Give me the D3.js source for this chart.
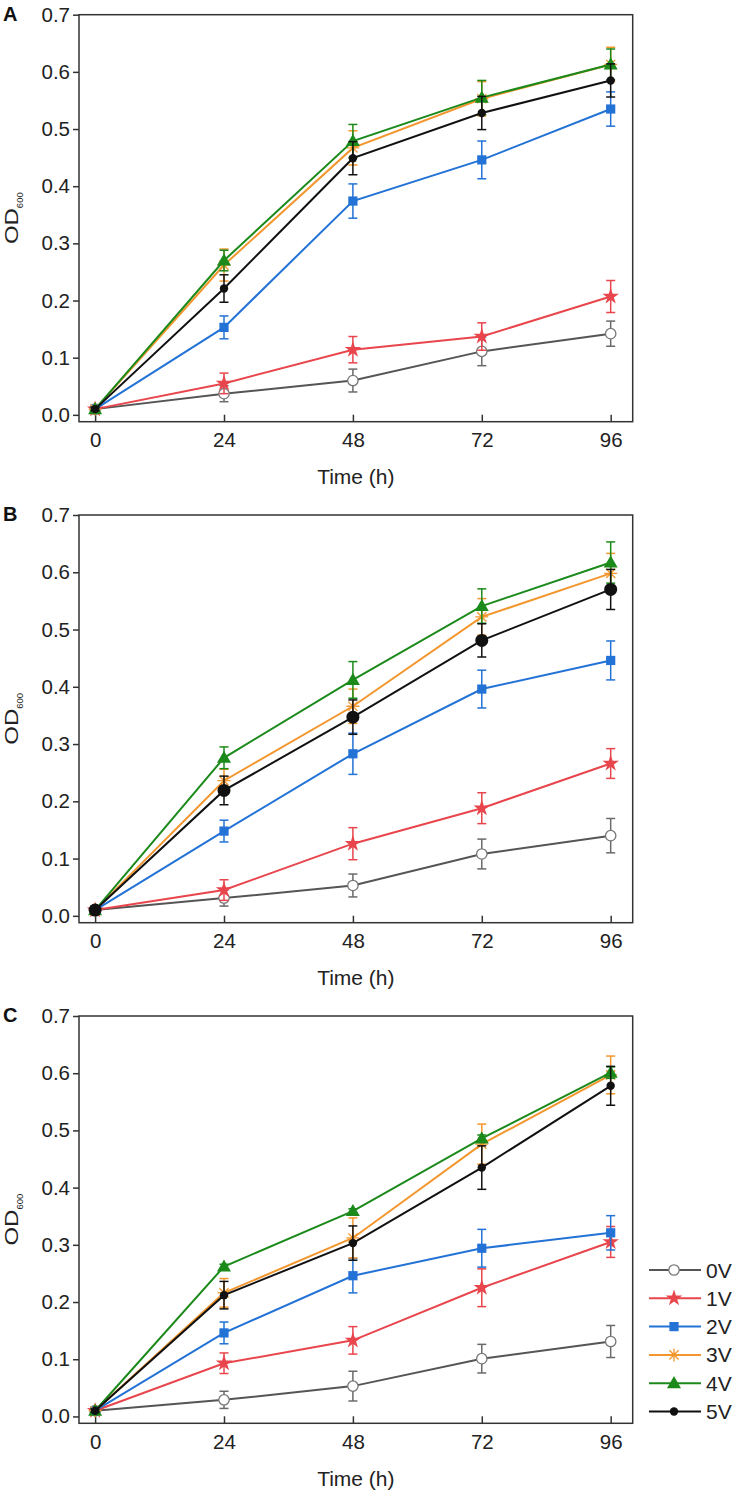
<!DOCTYPE html>
<html><head><meta charset="utf-8">
<script src="https://cdn.jsdelivr.net/npm/d3@7"></script>
<style>body{margin:0;background:#fff}svg{display:block;font-family:Arial,"Liberation Sans",sans-serif}</style>
</head><body>
<svg id="c" width="739" height="1499"></svg>
<script>
const times = [0, 24, 48, 72, 96];
const xTicks = [0, 24, 48, 72, 96];
const yTicks = [0, 0.1, 0.2, 0.3, 0.4, 0.5, 0.6, 0.7];
const seriesNames = ["0V", "1V", "2V", "3V", "4V", "5V"];
const panelLabels = ["A", "B", "C"];

// Panel A
const A_0V = [0.010, 0.037, 0.060, 0.111, 0.142];
const A_1V = [0.010, 0.055, 0.114, 0.137, 0.207];
const A_2V = [0.010, 0.153, 0.374, 0.446, 0.535];
const A_3V = [0.010, 0.262, 0.467, 0.553, 0.613];
const A_4V = [0.010, 0.270, 0.479, 0.555, 0.613];
const A_5V = [0.010, 0.221, 0.449, 0.528, 0.585];
const A_err0 = [0.003, 0.014, 0.020, 0.025, 0.022];
const A_err1 = [0.003, 0.018, 0.023, 0.024, 0.028];
const A_err2 = [0.003, 0.020, 0.030, 0.033, 0.030];
const A_err3 = [0.003, 0.028, 0.030, 0.030, 0.030];
const A_err4 = [0.003, 0.018, 0.029, 0.030, 0.027];
const A_err5 = [0.003, 0.024, 0.029, 0.029, 0.029];
// Panel B
const B_0V = [0.010, 0.031, 0.053, 0.108, 0.140];
const B_1V = [0.010, 0.045, 0.126, 0.188, 0.266];
const B_2V = [0.010, 0.148, 0.283, 0.396, 0.446];
const B_3V = [0.010, 0.236, 0.366, 0.522, 0.598];
const B_4V = [0.010, 0.276, 0.412, 0.541, 0.617];
const B_5V = [0.010, 0.219, 0.347, 0.481, 0.570];
const B_err0 = [0.003, 0.014, 0.020, 0.026, 0.030];
const B_err1 = [0.003, 0.018, 0.028, 0.027, 0.026];
const B_err2 = [0.003, 0.019, 0.036, 0.033, 0.034];
const B_err3 = [0.003, 0.020, 0.030, 0.032, 0.035];
const B_err4 = [0.003, 0.019, 0.032, 0.030, 0.036];
const B_err5 = [0.003, 0.025, 0.030, 0.029, 0.035];
// Panel C
const C_0V = [0.010, 0.029, 0.053, 0.101, 0.131];
const C_1V = [0.010, 0.093, 0.133, 0.225, 0.305];
const C_2V = [0.010, 0.146, 0.246, 0.294, 0.321];
const C_3V = [0.010, 0.216, 0.312, 0.476, 0.597];
const C_4V = [0.010, 0.262, 0.359, 0.486, 0.601];
const C_5V = [0.010, 0.212, 0.303, 0.435, 0.578];
const C_err0 = [0.003, 0.015, 0.026, 0.025, 0.028];
const C_err1 = [0.003, 0.018, 0.024, 0.033, 0.027];
const C_err2 = [0.003, 0.019, 0.030, 0.033, 0.030];
const C_err3 = [0.003, 0.025, 0.035, 0.035, 0.033];
const C_err4 = [0.002, 0.004, 0.004, 0.006, 0.010];
const C_err5 = [0.003, 0.024, 0.030, 0.038, 0.034];

const panelsData = [
  {vals:[A_0V,A_1V,A_2V,A_3V,A_4V,A_5V], errs:[A_err0,A_err1,A_err2,A_err3,A_err4,A_err5]},
  {vals:[B_0V,B_1V,B_2V,B_3V,B_4V,B_5V], errs:[B_err0,B_err1,B_err2,B_err3,B_err4,B_err5]},
  {vals:[C_0V,C_1V,C_2V,C_3V,C_4V,C_5V], errs:[C_err0,C_err1,C_err2,C_err3,C_err4,C_err5]}
];

const lineColors = ["#555555", "#e8464c", "#2372d6", "#f2962d", "#1b8a1b", "#111111"];
const errColors  = ["#6a6a6a", "#e8464c", "#2372d6", "#f2962d", "#1b8a1b", "#111111"];

const layout = [
  {top:14.7, bottom:421.7, bigDot:false},
  {top:515, bottom:922.7, bigDot:true},
  {top:1016, bottom:1423.3, bigDot:false}
];
const left = 79, right = 632.7;
const FONT = "Arial, 'Liberation Sans', sans-serif";

const svg = d3.select("#c");
const x = d3.scaleLinear().domain([-3, 100.1]).range([left, right]);

function asteriskPath(r){
  let p = "";
  for (let k = 0; k < 4; k++){
    const a = k*Math.PI/4;
    const dx = r*Math.cos(a), dy = r*Math.sin(a);
    p += `M${-dx},${-dy}L${dx},${dy}`;
  }
  return p;
}

function drawMarker(g, i, cx, cy, big){
  const c = lineColors[i];
  if (i === 0){
    g.append("circle").attr("cx",cx).attr("cy",cy).attr("r",5.2).attr("fill","#fff").attr("stroke","#777").attr("stroke-width",1.3);
  } else if (i === 1){
    g.append("path").attr("d", d3.symbol().type(d3.symbolStar).size(85)()).attr("transform",`translate(${cx},${cy})`).attr("fill",c);
  } else if (i === 2){
    g.append("path").attr("d", d3.symbol().type(d3.symbolSquare).size(85)()).attr("transform",`translate(${cx},${cy})`).attr("fill",c);
  } else if (i === 3){
    g.append("path").attr("d", asteriskPath(6.5)).attr("transform",`translate(${cx},${cy})`).attr("stroke",c).attr("stroke-width",1.3).attr("fill","none");
  } else if (i === 4){
    g.append("path").attr("d", d3.symbol().type(d3.symbolTriangle).size(85)()).attr("transform",`translate(${cx},${cy+1})`).attr("fill",c);
  } else {
    g.append("circle").attr("cx",cx).attr("cy",cy).attr("r", big ? 6.5 : 4.2).attr("fill",c);
  }
}

layout.forEach((L, pi) => {
  const y = d3.scaleLinear().domain([-0.012, 0.7]).range([L.bottom, L.top]);
  const g = svg.append("g");
  const D = panelsData[pi];

  g.append("rect").attr("x",left).attr("y",L.top).attr("width",right-left).attr("height",L.bottom-L.top)
    .attr("fill","none").attr("stroke","#333").attr("stroke-width",1.5);

  const ya = g.append("g").attr("transform",`translate(${left},0)`)
    .call(d3.axisLeft(y).tickValues(yTicks).tickFormat(d3.format(".1f")).tickSize(6).tickPadding(3));
  ya.select(".domain").remove();
  ya.selectAll("line").attr("stroke","#333").attr("stroke-width",1.5);
  ya.selectAll("text").attr("font-size",20.5).attr("fill","#222").attr("font-family",FONT);

  const xa = g.append("g").attr("transform",`translate(0,${L.bottom})`)
    .call(d3.axisBottom(x).tickValues(xTicks).tickFormat(d3.format("d")).tickSize(0).tickPadding(11));
  xa.select(".domain").remove();
  xa.selectAll(".tick").append("line").attr("y1",0).attr("y2",-7).attr("stroke","#333").attr("stroke-width",1.5);
  xa.selectAll("text").attr("font-size",20.5).attr("fill","#222").attr("font-family",FONT);

  g.append("text").attr("x",(left+right)/2).attr("y",L.bottom + 62.5).attr("text-anchor","middle")
    .attr("font-size",21).attr("fill","#222").text("Time (h)");
  const yl = g.append("text").attr("transform",`translate(18.3,${(L.top+L.bottom)/2}) rotate(-90)`)
    .attr("text-anchor","middle").attr("fill","#222");
  yl.append("tspan").attr("font-size",19).attr("textLength",36).attr("lengthAdjust","spacingAndGlyphs").text("OD");
  yl.append("tspan").attr("font-size",9.5).attr("dy",5).text("600");

  g.append("text").attr("x",3).attr("y",L.top+6).attr("font-size",20).attr("font-weight","bold").attr("fill","#111")
    .text(panelLabels[pi]);

  const line = d3.line().x((d,k)=>x(times[k])).y(d=>y(d));
  D.vals.forEach((vals, i) => {
    const sg = g.append("g");
    sg.append("path").attr("d", line(vals)).attr("fill","none").attr("stroke",lineColors[i]).attr("stroke-width",2);
    vals.forEach((v,k) => {
      const e = D.errs[i][k];
      const cx = x(times[k]);
      sg.append("line").attr("x1",cx).attr("x2",cx).attr("y1",y(v-e)).attr("y2",y(v+e)).attr("stroke",errColors[i]).attr("stroke-width",1.5);
      [v-e, v+e].forEach(w => sg.append("line").attr("x1",cx-4.5).attr("x2",cx+4.5).attr("y1",y(w)).attr("y2",y(w)).attr("stroke",errColors[i]).attr("stroke-width",1.5));
    });
    vals.forEach((v,k) => drawMarker(sg, i, x(times[k]), y(v), L.bigDot));
  });
});

const lg = svg.append("g");
seriesNames.forEach((name, i) => {
  const ry = 1270 + i*28.3;
  lg.append("line").attr("x1",649).attr("x2",701).attr("y1",ry).attr("y2",ry).attr("stroke",lineColors[i]).attr("stroke-width",2);
  drawMarker(lg, i, 674, ry, false);
  lg.append("text").attr("x",706).attr("y",ry).attr("dy","0.36em").attr("font-size",21).attr("fill","#222").text(name);
});
</script>
</body></html>
